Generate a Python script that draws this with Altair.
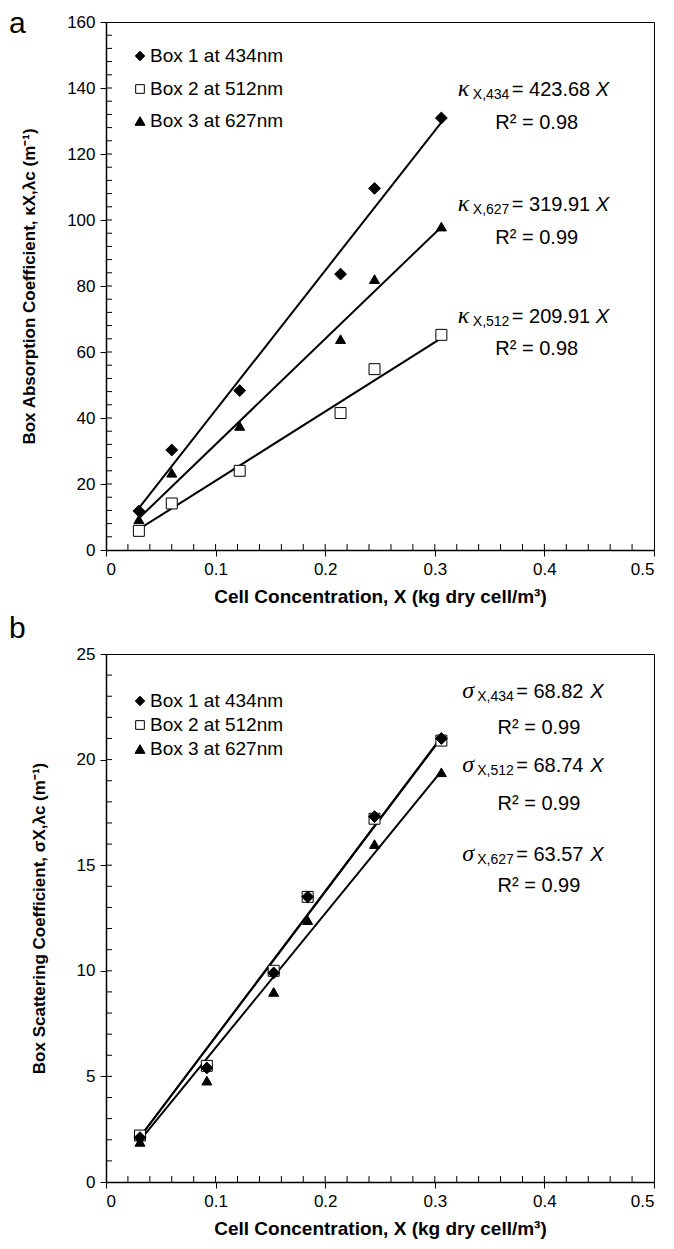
import altair as alt
import pandas as pd

# ---------------- data ----------------
series = ["Box 1 at 434nm", "Box 2 at 512nm", "Box 3 at 627nm"]
shapes = ["diamond", "square", "triangle-up"]
fills = ["black", "white", "black"]
msizes = [140, 100, 125]
legsizes = [90, 75, 100]

# panel a: absorption coefficient
x_a = [0.030, 0.060, 0.122, 0.214, 0.245, 0.306]
box1_a = [11.8, 30.3, 48.3, 83.6, 109.6, 130.9]
box2_a = [5.8, 14.1, 24.0, 41.5, 54.8, 65.2]
box3_a = [9.3, 23.4, 37.6, 63.9, 82.1, 98.0]
fitx_a = [0.030, 0.306]
fit1_a = [12.7, 129.6]
fit2_a = [6.3, 64.2]
fit3_a = [9.6, 97.9]

# panel b: scattering coefficient
x_b = [0.031, 0.092, 0.153, 0.184, 0.245, 0.306]
box1_b = [2.1, 5.4, 9.9, 13.5, 17.3, 21.0]
box2_b = [2.2, 5.5, 10.0, 13.5, 17.2, 20.9]
box3_b = [1.9, 4.8, 9.0, 12.4, 16.0, 19.4]
fitx_b = [0.031, 0.306]
fit1_b = [2.13, 21.06]
fit2_b = [2.13, 21.03]
fit3_b = [1.97, 19.45]

# equation annotations
sym_a = "κ"
sub_a = ["X,434", "X,627", "X,512"]
num_a = ["= 423.68", "= 319.91", "= 209.91"]
r2_a = ["R² = 0.98", "R² = 0.99", "R² = 0.98"]
eqx_a, r2x_a = 0.321, 0.393
eqy_a = [139.5, 104.5, 70.5]
r2y_a = [129.5, 94.5, 61.0]

sym_b = "σ"
sub_b = ["X,434", "X,512", "X,627"]
num_b = ["= 68.82", "= 68.74", "= 63.57"]
r2_b = ["R² = 0.99", "R² = 0.99", "R² = 0.99"]
eqx_b, r2x_b = 0.325, 0.395
eqy_b = [23.2, 19.7, 15.5]
r2y_b = [21.5, 17.9, 14.0]

xticks_major = [0, 0.1, 0.2, 0.3, 0.4, 0.5]
xticks_inner = [round(0.02 * i, 2) for i in range(1, 25)]
yticks_a = [0, 20, 40, 60, 80, 100, 120, 140, 160]
yinner_a = [4 * i for i in range(1, 40)]
yticks_b = [0, 5, 10, 15, 20, 25]
yinner_b = [i for i in range(1, 25)]

W, H = 548, 528
SANS = "Liberation Sans"
SERIF = "Liberation Serif"


def build(xs, ys, fitx, fits, ydom, yticks, yinner, ytitle, sym, subs, nums, r2s,
          eqx, eqy, r2x, r2y, letter, lettery, leg_rows, legfs, xdx):
    order = [1, 0, 2]  # squares drawn first
    pts = pd.DataFrame(
        [{"x": x, "y": y, "s": series[i]} for i in order for x, y in zip(xs, ys[i])]
    )
    lines = pd.DataFrame(
        [{"x": x, "y": y, "s": series[i]} for i in range(3) for x, y in zip(fitx, fits[i])]
    )
    xsc = alt.Scale(domain=[0, 0.5], nice=False, zero=False)
    ysc = alt.Scale(domain=ydom, nice=False, zero=False)

    line = alt.Chart(lines).mark_line(color="black", strokeWidth=2).encode(
        x=alt.X("x:Q", scale=xsc,
                axis=alt.Axis(values=xticks_major, format="~g",
                              title="Cell Concentration, X (kg dry cell/m³)")),
        y=alt.Y("y:Q", scale=ysc, axis=alt.Axis(values=yticks, title=ytitle)),
        detail="s:N",
    )
    points = alt.Chart(pts).mark_point(filled=True, stroke="black", strokeWidth=1,
                                       opacity=1).encode(
        x="x:Q",
        y="y:Q",
        shape=alt.Shape("s:N", scale=alt.Scale(domain=series, range=shapes), legend=None),
        fill=alt.Fill("s:N", scale=alt.Scale(domain=series, range=fills), legend=None),
        size=alt.Size("s:N", scale=alt.Scale(domain=series, range=msizes), legend=None),
    )
    xin = alt.Chart(pd.DataFrame({"v": xticks_inner})).mark_rule(color="black").encode(
        x="v:Q", y=alt.value(H), y2=alt.value(H - 6))
    yin = alt.Chart(pd.DataFrame({"v": yinner})).mark_rule(color="black").encode(
        y="v:Q", x=alt.value(0), x2=alt.value(6))

    # legend (symbol + label per series)
    legend_layers = []
    for i, s in enumerate(series):
        one = alt.Chart(pd.DataFrame({"t": [s]}))
        legend_layers.append(one.mark_point(
            shape=shapes[i], filled=True, fill=fills[i], stroke="black", strokeWidth=1,
            opacity=1, size=legsizes[i]).encode(
            x=alt.value(34), y=alt.value(leg_rows[i])))
        legend_layers.append(one.mark_text(
            align="left", baseline="middle", font=SANS, fontSize=legfs,
            color="black").encode(text="t:N", x=alt.value(44), y=alt.value(leg_rows[i])))

    eq = pd.DataFrame({"x": [eqx] * 3, "y": eqy, "sym": [sym] * 3, "sub": subs,
                       "num": nums, "X": ["X"] * 3})
    r2 = pd.DataFrame({"x": [r2x] * 3, "y": r2y, "t": r2s})
    base = alt.Chart(eq).encode(x="x:Q", y="y:Q")
    t_sym = base.mark_text(align="left", baseline="middle", font=SERIF, fontSize=24,
                           fontStyle="italic", dy=-1).encode(text="sym:N")
    t_sub = base.mark_text(align="left", baseline="middle", font=SANS, fontSize=14,
                           dx=15, dy=5).encode(text="sub:N")
    t_num = base.mark_text(align="left", baseline="middle", font=SANS, fontSize=20,
                           dx=54).encode(text="num:N")
    t_x = base.mark_text(align="left", baseline="middle", font=SANS, fontSize=20,
                         fontStyle="italic", dx=xdx).encode(text="X:N")
    t_r2 = alt.Chart(r2).mark_text(align="center", baseline="middle", font=SANS,
                                   fontSize=20).encode(x="x:Q", y="y:Q", text="t:N")
    t_letter = alt.Chart(pd.DataFrame({"t": [letter]})).mark_text(
        align="left", baseline="middle", font=SANS, fontSize=30).encode(
        text="t:N", x=alt.value(-97), y=alt.value(lettery))

    return alt.layer(line, xin, yin, points, *legend_layers, t_sym, t_sub, t_num, t_x,
                     t_r2, t_letter).properties(width=W, height=H)


pa = build(x_a, [box1_a, box2_a, box3_a], fitx_a, [fit1_a, fit2_a, fit3_a], [0, 160],
           yticks_a, yinner_a, "Box Absorption Coefficient, κX,λc (m⁻¹)",
           sym_a, sub_a, num_a, r2_a, eqx_a, eqy_a, r2x_a, r2y_a, "a", 2,
           [34, 67, 99], 19, 138)
pb = build(x_b, [box1_b, box2_b, box3_b], fitx_b, [fit1_b, fit2_b, fit3_b], [0, 25],
           yticks_b, yinner_b, "Box Scattering Coefficient, σX,λc (m⁻¹)",
           sym_b, sub_b, num_b, r2_b, eqx_b, eqy_b, r2x_b, r2y_b, "b", -25,
           [47, 71, 95], 19, 128)

chart = alt.vconcat(pa, pb, spacing=6).properties(
    padding={"left": 8, "top": 8, "right": 10, "bottom": 5},
    background="white",
).configure_view(stroke="black", strokeWidth=1).configure_axis(
    grid=False, domainColor="black", domainWidth=1.5, tickColor="black", tickSize=6,
    tickWidth=1, labelFont=SANS, labelFontSize=17, labelColor="black", labelPadding=5,
    titleFont=SANS, titleFontWeight="bold", titleColor="black",
).configure_axisX(titleFontSize=19, titlePadding=10
).configure_axisY(titleFontSize=17, titlePadding=28)

chart.save("out.html", embed_options={"renderer": "svg", "actions": False})
